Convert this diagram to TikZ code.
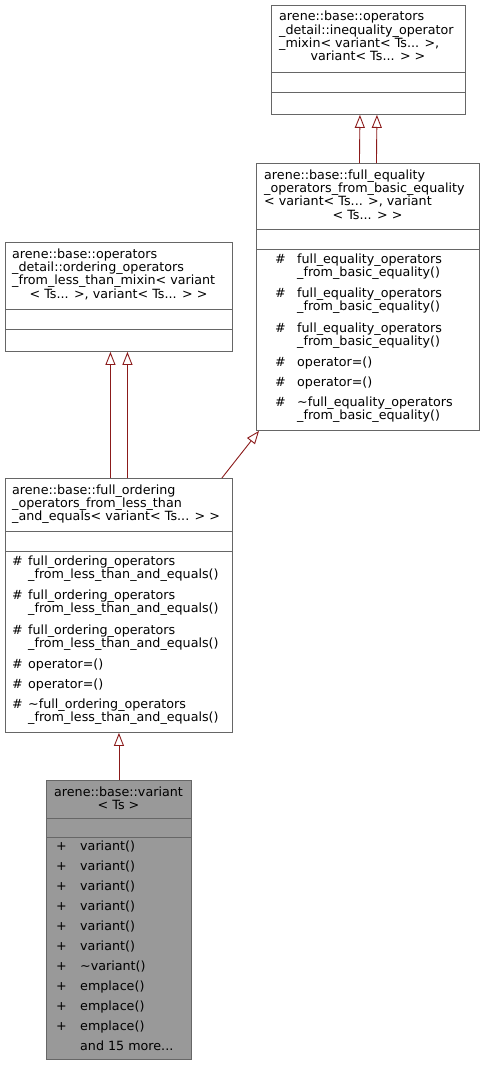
\documentclass[tikz,border=0pt]{standalone}
\usepackage{fontspec}
\setmainfont{DejaVu Sans}
\usetikzlibrary{arrows.meta}
\definecolor{boxline}{HTML}{666666}
\definecolor{boxgray}{HTML}{999999}
\definecolor{inherit}{HTML}{8B1A1A}
\begin{document}
\begin{tikzpicture}[
		x=1pt, y=-1pt,
		every node/.style={inner sep=0pt, font=\fontsize{12.7}{13.3}\selectfont},
		classbox/.style={rectangle, draw=boxline, fill=white, line width=0.9pt, anchor=north west},
		txt/.style={anchor=base west},
		ctxt/.style={anchor=base},
		sep/.style={draw=boxline, line width=0.9pt},
		inh/.style={draw=inherit, line width=0.9pt, -{Triangle[open, length=13pt, width=10pt, fill=white]}}
	]
  \useasboundingbox (0,0) rectangle (485,1065);
  % class boxes
  \node (ineq) [classbox, minimum width=194pt, minimum height=109pt] at (271,5) {};
  \node (fulleq) [classbox, minimum width=223pt, minimum height=267pt] at (256,163) {};
  \node (ordmix) [classbox, minimum width=227pt, minimum height=109pt] at (5,242) {};
  \node (fullord) [classbox, minimum width=227pt, minimum height=254pt] at (5,478) {};
  \node (variant) [classbox, fill=boxgray, minimum width=145pt, minimum height=279pt] at (46,780) {};
  % compartments
  \draw [sep] (ineq.west |- 0,72) -- (ineq.east |- 0,72);
  \draw [sep] (ineq.west |- 0,92) -- (ineq.east |- 0,92);
  \draw [sep] (fulleq.west |- 0,229) -- (fulleq.east |- 0,229);
  \draw [sep] (fulleq.west |- 0,249) -- (fulleq.east |- 0,249);
  \draw [sep] (ordmix.west |- 0,309) -- (ordmix.east |- 0,309);
  \draw [sep] (ordmix.west |- 0,329) -- (ordmix.east |- 0,329);
  \draw [sep] (fullord.west |- 0,531) -- (fullord.east |- 0,531);
  \draw [sep] (fullord.west |- 0,551) -- (fullord.east |- 0,551);
  \draw [sep] (variant.west |- 0,818) -- (variant.east |- 0,818);
  \draw [sep] (variant.west |- 0,837) -- (variant.east |- 0,837);
  % titles
  \node (ineqT1) [txt] at (279,21) {arene::base::operators};
  \node (ineqT2) [txt] at (279,34.3) {\_detail::inequality\_operator};
  \node (ineqT3) [txt] at (279,47.6) {\_mixin< variant< Ts... >,};
  \node (ineqT4) [ctxt] at (368,61) {variant< Ts... > >};
  \node (fulleqT1) [txt] at (264,179) {arene::base::full\_equality};
  \node (fulleqT2) [txt] at (264,192.3) {\_operators\_from\_basic\_equality};
  \node (fulleqT3) [txt] at (264,205.6) {< variant< Ts... >, variant};
  \node (fulleqT4) [ctxt] at (367.5,219) {< Ts... > >};
  \node (ordmixT1) [txt] at (12,258) {arene::base::operators};
  \node (ordmixT2) [txt] at (12,271.3) {\_detail::ordering\_operators};
  \node (ordmixT3) [txt] at (12,284.6) {\_from\_less\_than\_mixin< variant};
  \node (ordmixT4) [ctxt] at (118.5,298) {< Ts... >, variant< Ts... > >};
  \node (fullordT1) [txt] at (12,494) {arene::base::full\_ordering};
  \node (fullordT2) [txt] at (12,507.3) {\_operators\_from\_less\_than};
  \node (fullordT3) [txt] at (12,520.6) {\_and\_equals< variant< Ts... > >};
  \node (variantT1) [ctxt] at (118.5,796) {arene::base::variant};
  \node (variantT2) [ctxt] at (118.5,809.3) {< Ts >};
  % members
  \foreach \yy/\mtext [count=\i] in {263/full\_equality\_operators, 297.5/full\_equality\_operators,
      332/full\_equality\_operators, 366.5/operator=(), 386.5/operator=(),
      406.5/\textasciitilde full\_equality\_operators}
    \node (fulleqM\i) [txt] at (297,\yy) {\mtext};
  \foreach \yy [count=\i] in {276.3, 310.8, 345.3, 419.8}
    \node (fulleqN\i) [txt] at (297,\yy) {\_from\_basic\_equality()};
  \foreach \yy [count=\i] in {263, 297.5, 332, 366.5, 386.5, 406.5}
    \node (fulleqV\i) [txt] at (275,\yy) {\#};
  \foreach \yy/\mtext [count=\i] in {565/full\_ordering\_operators, 599.5/full\_ordering\_operators,
      634/full\_ordering\_operators, 668.5/operator=(), 688.5/operator=(),
      708.5/\textasciitilde full\_ordering\_operators}
    \node (fullordM\i) [txt] at (28,\yy) {\mtext};
  \foreach \yy [count=\i] in {578.3, 612.8, 647.3, 721.8}
    \node (fullordN\i) [txt] at (28,\yy) {\_from\_less\_than\_and\_equals()};
  \foreach \yy [count=\i] in {565, 599.5, 634, 668.5, 688.5, 708.5}
    \node (fullordV\i) [txt] at (12,\yy) {\#};
  \foreach \mtext [count=\i] in {variant(), variant(), variant(), variant(), variant(), variant(),
      \textasciitilde variant(), emplace(), emplace(), emplace()}
    {
    \node (variantM\i) [txt] at (80,830+20*\i) {\mtext};
    \node (variantV\i) [txt] at (56,830+20*\i) {+};
    }
  \node (variantMore) [txt] at (80,1050) {and 15 more...};
  % inheritance
  \draw [inh] ([xshift=-8.5pt]fulleq.north) -- ([xshift=-8.5pt]ineq.south);
  \draw [inh] ([xshift=8.5pt]fulleq.north) -- ([xshift=8.5pt]ineq.south);
  \draw [inh] ([xshift=-8.5pt]fullord.north) -- ([xshift=-8.5pt]ordmix.south);
  \draw [inh] ([xshift=8.5pt]fullord.north) -- ([xshift=8.5pt]ordmix.south);
  \draw [inh] ([xshift=-11pt]fullord.north east) -- ([xshift=3pt]fulleq.south west);
  \draw [inh] (variant.north) -- (fullord.south);
\end{tikzpicture}
\end{document}
